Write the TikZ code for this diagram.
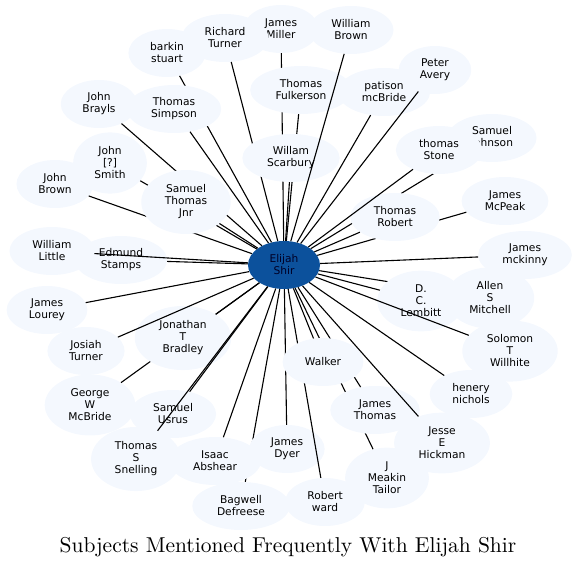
\documentclass[tikz,border=0pt]{standalone}
\usepackage{fontspec}
\newfontfamily\dejavu{DejaVu Sans}
\newfontfamily\titlefont{lmroman10-regular.otf}
\usetikzlibrary{shapes.geometric}
\definecolor{nodefill}{RGB}{244,248,254}
\definecolor{centerfill}{RGB}{12,81,156}
\tikzset{
  subj/.style={ellipse, fill=nodefill, draw=none, align=center,
    font=\dejavu\fontsize{10.67}{12}\selectfont,
    inner xsep=10.5pt, inner ysep=5.5pt, minimum width=72pt, minimum height=48pt},
  hub/.style={subj, fill=centerfill, text=black!85!blue},
  edge/.style={draw=black, line width=1.1pt},
  titletext/.style={font=\titlefont\fontsize{21.5}{25}\selectfont}
}
\newcommand{\subj}[4]{\node[subj] (#1) at (#2,#3) {#4}; \draw[edge] (eli) -- (#1);}
\begin{document}
\begin{tikzpicture}[x=1pt,y=-1pt]
\useasboundingbox (0,0) rectangle (578,568);
\node[hub] (eli) at (284,265) {Elijah\\Shir};
\subj{jm}{281}{29}{James\\Miller}
\subj{rt}{225}{38}{Richard\\Turner}
\subj{tf}{301}{90}{Thomas\\Fulkerson}
\subj{ws}{291}{158}{Willam\\Scarbury}
\subj{wb}{351}{30}{William\\Brown}
\subj{bs}{167}{53}{barkin\\stuart}
\subj{tsi}{174}{109}{Thomas\\Simpson}
\subj{jb}{99}{104}{John\\Brayls}
\subj{js}{110}{163}{John\\{[}?{]}\\Smith}
\subj{jbr}{55}{184}{John\\Brown}
\subj{stj}{186}{202}{Samuel\\Thomas\\Jnr}
\subj{es}{121}{260}{Edmund\\Stamps}
\subj{wl}{52}{251}{William\\Little}
\subj{jl}{47}{310}{James\\Lourey}
\subj{gwm}{90}{405}{George\\W\\McBride}
\subj{jtb}{183}{338}{Jonathan\\T\\Bradley}
\subj{jot}{86}{351}{Josiah\\Turner}
\subj{su}{173}{414}{Samuel\\Usrus}
\subj{tss}{136}{459}{Thomas\\S\\Snelling}
\subj{bd}{241}{506}{Bagwell\\Defreese}
\subj{ia}{215}{461}{Isaac\\Abshear}
\subj{jd}{287}{449}{James\\Dyer}
\subj{rw}{325}{502}{Robert\\ward}
\subj{jmt}{387}{478}{J\\Meakin\\Tailor}
\subj{jth}{375}{410}{James\\Thomas}
\subj{wa}{323}{362}{Walker}
\subj{jeh}{442}{443}{Jesse\\E\\Hickman}
\subj{hn}{471}{394}{henery\\nichols}
\subj{asm}{490}{298}{Allen\\S\\Mitchell}
\subj{dcl}{421}{301}{D.\\C.\\Lembitt}
\subj{stw}{510}{351}{Solomon\\T\\Willhite}
\subj{jmk}{525}{255}{James\\mckinny}
\subj{jmp}{505}{201}{James\\McPeak}
\subj{sj}{492}{138}{Samuel\\Johnson}
\subj{tr}{395}{217}{Thomas\\Robert}
\subj{tst}{439}{150}{thomas\\Stone}
\subj{pm}{384}{92}{patison\\mcBride}
\subj{pa}{435}{70}{Peter\\Avery}
\node[titletext] (title) at (288,547) {Subjects Mentioned Frequently With Elijah Shir};
\end{tikzpicture}
\end{document}
